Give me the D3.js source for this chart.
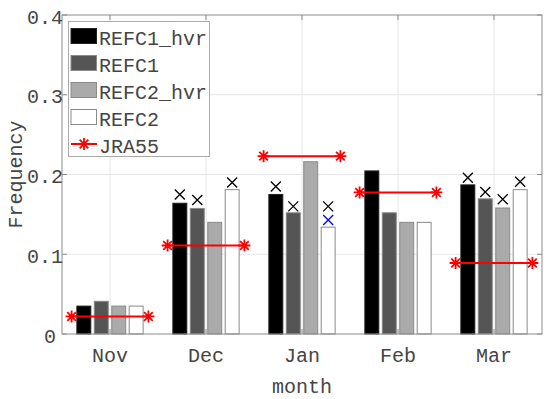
<!DOCTYPE html>
<html><head><meta charset="utf-8">
<script src="https://cdn.jsdelivr.net/npm/d3@7/dist/d3.min.js"></script>
<style>body{margin:0;background:#fff}svg{display:block}</style>
</head><body><svg id="c" width="550" height="399"></svg>
<script>
const months = ["Nov","Dec","Jan","Feb","Mar"];
const seriesNames = ["REFC1_hvr","REFC1","REFC2_hvr","REFC2"];
const REFC1_hvr = [0.035,0.164,0.175,0.2045,0.187];
const REFC1 = [0.041,0.1575,0.152,0.152,0.1695];
const REFC2_hvr = [0.035,0.140,0.216,0.140,0.158];
const REFC2 = [0.035,0.181,0.134,0.140,0.181];
const JRA55 = [0.022,0.111,0.223,0.1775,0.089];
// cross markers (black) per series, null = none
const crossREFC1_hvr = [null,0.175,0.185,null,0.196];
const crossREFC1 = [null,0.168,0.160,null,0.178];
const crossREFC2_hvr = [null,null,null,null,0.169];
const crossREFC2 = [null,0.190,0.160,null,0.191];
// blue cross markers
const blueREFC2 = [null,null,0.143,null,null];
const yTicks = [0,0.1,0.2,0.3,0.4];

const seriesVals = [REFC1_hvr,REFC1,REFC2_hvr,REFC2];
const crossVals = [crossREFC1_hvr,crossREFC1,crossREFC2_hvr,crossREFC2];
const blueVals = [null,null,null,blueREFC2];
const fills = ["#000000","#555555","#aaaaaa","#ffffff"];

const svg = d3.select("#c");
const L=62, R=542, T=15, B=334;
const x = d3.scaleLinear().domain([0.5,5.5]).range([L,R]);
const y = d3.scaleLinear().domain([0,0.4]).range([B,T]);
const font = "'Liberation Mono', 'Courier New', monospace";
const txtCol = "#454545";
const fs = 20;

// grid
const g = svg.append("g");
g.selectAll("line.vg").data(months).enter().append("line")
 .attr("x1",(d,i)=>x(i+1)).attr("x2",(d,i)=>x(i+1)).attr("y1",T).attr("y2",B)
 .attr("stroke","#e6e6e6").attr("stroke-width",1);
g.selectAll("line.hg").data(yTicks.slice(1,-1)).enter().append("line")
 .attr("x1",L).attr("x2",R).attr("y1",d=>y(d)).attr("y2",d=>y(d))
 .attr("stroke","#e6e6e6").attr("stroke-width",1);

// bars
const step = 0.727/4, bw = step*0.8;
seriesVals.forEach((vals,s)=>{
  const off = (s-1.5)*step;
  svg.append("g").selectAll("rect").data(vals).enter().append("rect")
   .attr("x",(d,i)=>x(i+1+off-bw/2)).attr("width",x(bw)-x(0))
   .attr("y",d=>y(d)).attr("height",d=>y(0)-y(d))
   .attr("fill",fills[s]).attr("stroke",s==0?"#222":"#8a8a8a").attr("stroke-width",1);
});

function cross(sel,cx,cy,col){
  const r=5;
  sel.append("path").attr("d",`M${cx-r},${cy-r}L${cx+r},${cy+r}M${cx-r},${cy+r}L${cx+r},${cy-r}`)
   .attr("stroke",col).attr("stroke-width",1.3).attr("fill","none");
}
function star(sel,cx,cy){
  const r=6, d=r*0.72;
  sel.append("path").attr("d",`M${cx-r},${cy}L${cx+r},${cy}M${cx},${cy-r}L${cx},${cy+r}M${cx-d},${cy-d}L${cx+d},${cy+d}M${cx-d},${cy+d}L${cx+d},${cy-d}`)
   .attr("stroke","#ff0000").attr("stroke-width",1.8).attr("fill","none");
}
const mk = svg.append("g");
crossVals.forEach((vals,s)=>{
  const off=(s-1.5)*step;
  vals.forEach((v,i)=>{ if(v!=null) cross(mk,x(i+1+off),y(v),"#000"); });
});
blueVals.forEach((vals,s)=>{
  if(!vals) return;
  const off=(s-1.5)*step;
  vals.forEach((v,i)=>{ if(v!=null) cross(mk,x(i+1+off),y(v),"#0000ff"); });
});

// JRA55 lines
JRA55.forEach((v,i)=>{
  mk.append("line").attr("x1",x(i+1-0.4)).attr("x2",x(i+1+0.4)).attr("y1",y(v)).attr("y2",y(v))
   .attr("stroke","#ff0000").attr("stroke-width",2);
  star(mk,x(i+1-0.4),y(v)); star(mk,x(i+1+0.4),y(v));
});

// axes box
const ax = svg.append("g");
ax.append("rect").attr("x",L).attr("y",T).attr("width",R-L).attr("height",B-T)
 .attr("fill","none").attr("stroke","#8c8c8c").attr("stroke-width",1);
yTicks.forEach(t=>{
  ax.append("line").attr("x1",L).attr("x2",L+5).attr("y1",y(t)).attr("y2",y(t)).attr("stroke","#8c8c8c");
  ax.append("line").attr("x1",R-5).attr("x2",R).attr("y1",y(t)).attr("y2",y(t)).attr("stroke","#8c8c8c");
  ax.append("text").attr("x",t===0?L-6:L+1).attr("y",y(t)+8.5).attr("text-anchor","end")
   .attr("font-family",font).attr("font-size",fs).attr("fill",txtCol).text(t===0?"0":String(t));
});
months.forEach((m,i)=>{
  ax.append("line").attr("x1",x(i+1)).attr("x2",x(i+1)).attr("y1",B).attr("y2",B-5).attr("stroke","#8c8c8c");
  ax.append("line").attr("x1",x(i+1)).attr("x2",x(i+1)).attr("y1",T).attr("y2",T+5).attr("stroke","#8c8c8c");
  ax.append("text").attr("x",x(i+1)).attr("y",362).attr("text-anchor","middle")
   .attr("font-family",font).attr("font-size",fs).attr("fill",txtCol).text(m);
});
ax.append("text").attr("x",(L+R)/2).attr("y",393).attr("text-anchor","middle")
 .attr("font-family",font).attr("font-size",fs).attr("fill",txtCol).text("month");
ax.append("text").attr("transform",`translate(22,${(T+B)/2}) rotate(-90)`).attr("text-anchor","middle")
 .attr("font-family",font).attr("font-size",fs).attr("fill",txtCol).text("Frequency");

// legend
const lg = svg.append("g");
lg.append("rect").attr("x",68.5).attr("y",21.5).attr("width",141).attr("height",135)
 .attr("fill","#fff").attr("stroke","#aaaaaa").attr("stroke-width",1);
const legNames = seriesNames.concat(["JRA55"]);
legNames.forEach((n,k)=>{
  const cy = 36 + k*27;
  if(k<4){
    lg.append("rect").attr("x",71).attr("y",cy-7.5).attr("width",25.5).attr("height",15)
     .attr("fill",fills[k]).attr("stroke",k==0?"#222":"#8a8a8a");
  } else {
    lg.append("line").attr("x1",71).attr("x2",97).attr("y1",cy).attr("y2",cy).attr("stroke","#ff0000").attr("stroke-width",2);
    star(lg,84,cy);
  }
  lg.append("text").attr("x",99).attr("y",cy+8.5)
   .attr("font-family",font).attr("font-size",fs).attr("fill",txtCol).text(n);
});
</script></body></html>
